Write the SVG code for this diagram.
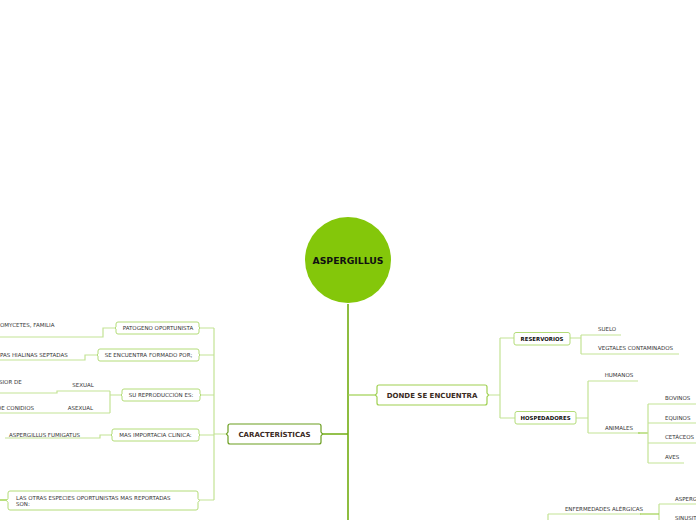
<svg xmlns="http://www.w3.org/2000/svg" width="696" height="520" viewBox="0 0 696 520">
<style>
.t{font-family:"DejaVu Sans",Verdana,sans-serif;font-size:5.5px;fill:#333}
.m{text-anchor:middle}
.b{font-family:"DejaVu Sans",Verdana,sans-serif;font-weight:bold;fill:#111;text-anchor:middle}
.h{font-family:"DejaVu Sans",Verdana,sans-serif;font-weight:bold;font-size:7px;fill:#3b2a1e;text-anchor:middle}
.lc{fill:none;stroke:#c3e395;stroke-width:1.2}
.dc{fill:none;stroke:#72ad12;stroke-width:1.6}
.ac{fill:none;stroke:#9fd050;stroke-width:1.2}
.ln{fill:#fff;stroke:#b3dc78;stroke-width:1}
.dn{fill:#fff;stroke:#6a9e1f;stroke-width:1.2}
.mn{fill:#fff;stroke:#9fd050;stroke-width:1.2}
</style>
<g id="connectors">
<path class="dc" d="M348,304 V520 M348,434 H321"/>
<path class="ac" d="M348,395 H377"/>
<path class="lc" d="M228,434 H214 M214,328 V500 M199,328 H214 M199,355 H214 M200,395 H214 M199,435 H214 M197,500 H214"/>
<path class="lc" d="M116,328 H103 V337 H0"/>
<path class="lc" d="M98,355 H85 V360 H0"/>
<path class="lc" d="M122,395 H110 M110,391 V413 M110,391 H57 V393 H0 M110,413 H0"/>
<path class="lc" d="M112,435 H100 V438 H5"/>
<path fill="none" stroke="#8ccc2a" stroke-width="1.2" d="M0,500 H8"/>
<path class="lc" d="M487,395 H500 M500,338 V418 M500,338 H514 M500,418 H515"/>
<path class="lc" d="M570,338 H581 M581,335 V354 M581,335 H621 M581,354 H679"/>
<path class="lc" d="M576,418 H588 M588,381 V433 M588,381 H638 M588,433 H640"/>
<path class="ac" d="M638,433 H648"/>
<path class="lc" d="M648,404 V463 M648,404 H696 M648,423 H696 M648,443 H696 M648,463 H684"/>
<path class="lc" d="M548,514 V520 M548,514 H641 M659,504 V520 M659,504 H696"/>
<path class="ac" d="M640,514 H659"/>
</g>
<g id="aspergillus">
<circle cx="348" cy="260" r="43" fill="#84c70a"/>
<text class="b" x="348" y="264" font-size="9.3">ASPERGILLUS</text>
</g>
<g id="caracteristicas">
<path class="dn" d="M230,424 H319 Q321,424 321,426 V432 L322.5,434 L321,436 V442 Q321,444 319,444 H230 Q228,444 228,442 V436 L226.5,434 L228,432 V426 Q228,424 230,424 Z"/>
<text class="h" x="274.5" y="436.6">CARACTERÍSTICAS</text>
</g>
<g id="donde">
<path class="mn" d="M379,385 H485 Q487,385 487,387 V393 L488.5,395 L487,397 V403 Q487,405 485,405 H379 Q377,405 377,403 V397 L375.5,395 L377,393 V387 Q377,385 379,385 Z"/>
<text class="h" x="432" y="397.6">DONDE SE ENCUENTRA</text>
</g>
<g id="patogeno">
<path class="ln" d="M118,322 H197 Q199,322 199,324 V327 L200,328 L199,329 V332 Q199,334 197,334 H118 Q116,334 116,332 V329 L115,328 L116,327 V324 Q116,322 118,322 Z"/>
<text class="t m" x="158" y="330">PATOGENO OPORTUNISTA</text>
</g>
<g id="formado">
<path class="ln" d="M100,349 H197 Q199,349 199,351 V354 L200,355 L199,356 V359 Q199,361 197,361 H100 Q98,361 98,359 V356 L97,355 L98,354 V351 Q98,349 100,349 Z"/>
<text class="t m" x="148.5" y="357">SE ENCUENTRA FORMADO POR;</text>
</g>
<g id="reproduccion">
<path class="ln" d="M124,389 H198 Q200,389 200,391 V394 L201,395 L200,396 V399 Q200,401 198,401 H124 Q122,401 122,399 V396 L121,395 L122,394 V391 Q122,389 124,389 Z"/>
<text class="t m" x="161" y="397">SU REPRODUCCIÓN ES:</text>
</g>
<g id="importancia">
<path class="ln" d="M114,429 H197 Q199,429 199,431 V434 L200,435 L199,436 V439 Q199,441 197,441 H114 Q112,441 112,439 V436 L111,435 L112,434 V431 Q112,429 114,429 Z"/>
<text class="t m" x="155.5" y="437">MAS IMPORTACIA CLINICA:</text>
</g>
<g id="otras">
<path class="ln" d="M10,491 H196 Q198,491 198,493 V498.5 L199.5,500.5 L198,502.5 V508 Q198,510 196,510 H10 Q8,510 8,508 V502.5 L6.5,500.5 L8,498.5 V493 Q8,491 10,491 Z"/>
<text class="t" x="16" y="499.5">LAS OTRAS ESPECIES OPORTUNISTAS MAS REPORTADAS</text>
<text class="t" x="16" y="506">SON:</text>
</g>
<g id="left-leaves">
<text class="t" x="0" y="327">OMYCETES, FAMILIA</text>
<text class="t" x="0" y="357">PAS HIALINAS SEPTADAS</text>
<text class="t" x="-1" y="384">SIOR DE</text>
<text class="t m" x="83" y="387">SEXUAL</text>
<text class="t" x="-3" y="410">DE CONIDIOS</text>
<text class="t m" x="80.5" y="410">ASEXUAL</text>
<text class="t" x="9" y="437">ASPERGILLUS FUMIGATUS</text>
</g>
<g id="reservorios">
<path class="ln" d="M516,332.5 H568 Q570,332.5 570,334.5 V343 Q570,345 568,345 H516 Q514,345 514,343 V334.5 Q514,332.5 516,332.5 Z"/>
<text class="b" x="542" y="340.6" font-size="5.4">RESERVORIOS</text>
</g>
<g id="hospedadores">
<path class="ln" d="M517,411.5 H574 Q576,411.5 576,413.5 V422 Q576,424 574,424 H517 Q515,424 515,422 V413.5 Q515,411.5 517,411.5 Z"/>
<text class="b" x="545.5" y="419.8" font-size="5.4">HOSPEDADORES</text>
</g>
<g id="right-leaves">
<text class="t" x="598" y="331">SUELO</text>
<text class="t" x="598" y="350">VEGTALES CONTAMINADOS</text>
<text class="t m" x="619" y="377">HUMANOS</text>
<text class="t m" x="619" y="430">ANIMALES</text>
<text class="t" x="665" y="400">BOVINOS</text>
<text class="t" x="665" y="420">EQUINOS</text>
<text class="t" x="665" y="439">CETÁCEOS</text>
<text class="t" x="665" y="459">AVES</text>
<text class="t m" x="604" y="510.5">ENFERMEDADES ALÉRGICAS</text>
<text class="t" x="675" y="501">ASPERGILOSIS</text>
<text class="t" x="675" y="520">SINUSITIS</text>
</g>
</svg>
